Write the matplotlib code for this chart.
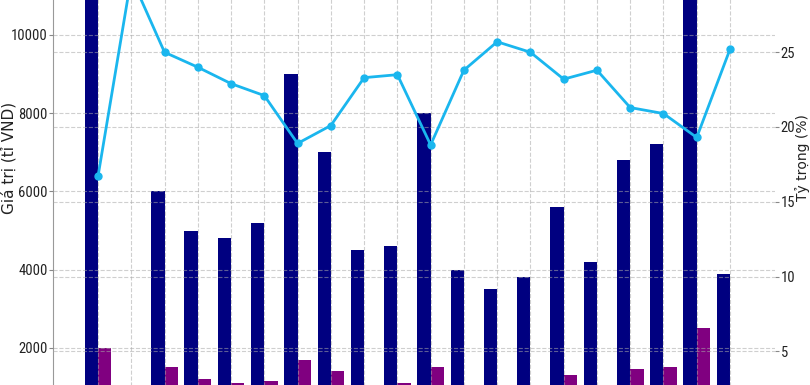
import numpy as np
import matplotlib
matplotlib.use("Agg")
import matplotlib.pyplot as plt
from matplotlib import font_manager

names = {f.name for f in font_manager.fontManager.ttflist}

categories = [str(i) for i in range(1, 21)]
value_total = [12500, np.nan, 6000, 5000, 4800, 5200, 9000, 7000, 4500, 4600,
               8000, 4000, 3500, 3800, 5600, 4200, 6800, 7200, 11800, 3900]
value_part = [2000, np.nan, 1500, 1200, 1100, 1150, 1700, 1400, 1050, 1090,
              1500, 900, 850, 950, 1300, 1000, 1450, 1500, 2500, 950]
share_pct = [16.7, 30.0, 25.0, 24.0, 22.9, 22.1, 18.9, 20.1, 23.3, 23.5,
             18.8, 23.8, 25.7, 25.0, 23.2, 23.8, 21.3, 20.9, 19.3, 25.2]

tick_font, tick_size = "DejaVu Sans", 9.5
for cand in ["Liberation Sans Narrow", "DejaVu Sans Condensed",
             "Roboto Condensed", "Open Sans Condensed", "Noto Sans Condensed"]:
    if cand in names:
        tick_font, tick_size = cand, 10.5
        break

W, H = 810, 385
fig = plt.figure(figsize=(W / 100, H / 100), dpi=100)
left_px, right_px = 53, 775
top_px, bottom_px = -110, 426
ax = fig.add_axes([left_px / W, 1 - bottom_px / H,
                   (right_px - left_px) / W, (bottom_px - top_px) / H])
ax2 = ax.twinx()

x = np.arange(len(categories))
bw = 0.4
ax.bar(x - bw / 2, value_total, width=bw, color="#000080", zorder=1)
ax.bar(x + bw / 2, value_part, width=bw, color="#800080", zorder=1)
ax2.plot(x, share_pct, color="#1ab6ee", lw=2, marker="o", ms=5, zorder=3)

ax.set_xlim(-1.353, 20.353)
ax.set_ylim(0, 536 / 39.1 * 1000)
ax2.set_ylim(0, 536 / 14.95)
ax.set_xticks(x)
ax.set_xticklabels([])
ax.tick_params(axis="x", length=0)
ax.set_yticks([2000, 4000, 6000, 8000, 10000])
ax2.set_yticks([5, 10, 15, 20, 25])

gkw = dict(color="#a8a8a8", alpha=0.55, linestyle="--", linewidth=0.8)
ax.grid(True, **gkw)
ax2.grid(True, axis="y", **gkw)
ax.set_axisbelow(False)

for a in (ax, ax2):
    a.spines["right"].set_visible(False)
    a.spines["top"].set_visible(False)
    a.spines["bottom"].set_visible(False)
ax2.spines["left"].set_visible(False)
ax.spines["left"].set_color("#999999")

ax.tick_params(axis="y", length=3, color="#888888", labelsize=tick_size,
               labelcolor="#222222", pad=1)
ax2.tick_params(axis="y", length=3, color="#888888", labelsize=tick_size,
                labelcolor="#222222", pad=1)
for lab in ax.get_yticklabels() + ax2.get_yticklabels():
    lab.set_family(tick_font)

fig.text(9 / W, 1 - 158 / H, "Giá trị (tỉ VND)", rotation=90, fontsize=11,
         color="#222222", ha="center", va="center")
fig.text(803 / W, 1 - 158 / H, "Tỷ trọng (%)", rotation=90, fontsize=10,
         color="#222222", ha="center", va="center")

fig.savefig("out.png", dpi=100)
